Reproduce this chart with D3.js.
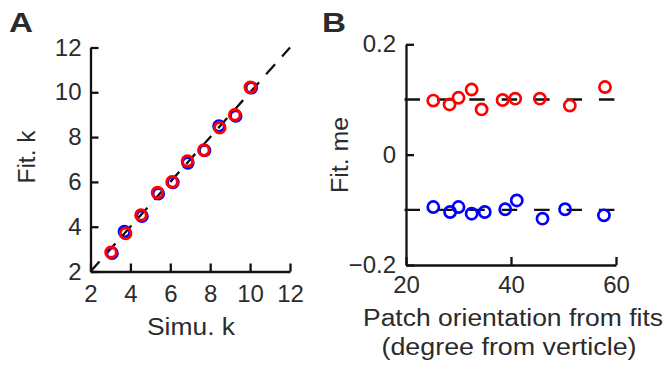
<!DOCTYPE html>
<html><head><meta charset="utf-8">
<script src="https://cdn.jsdelivr.net/npm/d3@7"></script>
<style>
body{margin:0;background:#fff;}
text{font-family:"Liberation Sans",Arial,Helvetica,sans-serif;fill:#2b2b2b;}
</style></head><body>
<svg id="chart" width="667" height="366"></svg>
<script>
// Panel A data
const simuKBlue = [3.08, 3.70, 4.58, 5.40, 6.13, 6.88, 7.72, 8.44, 9.28, 10.06];
const fitKBlue  = [2.82, 3.78, 4.47, 5.47, 5.98, 6.85, 7.40, 8.49, 8.94, 10.20];
const simuKRed  = [3.03, 3.76, 4.53, 5.36, 6.09, 6.86, 7.68, 8.48, 9.23, 10.01];
const fitKRed   = [2.86, 3.70, 4.52, 5.52, 6.00, 6.93, 7.42, 8.42, 8.99, 10.22];
const ticksA = [2, 4, 6, 8, 10, 12];
// Panel B data
const orientRed = [25.2, 28.3, 30.0, 32.5, 34.4, 38.4, 40.8, 45.5, 51.2, 57.9];
const meRed     = [0.098, 0.091, 0.103, 0.118, 0.082, 0.099, 0.1015, 0.1015, 0.089, 0.1225];
const orientBlue = [25.2, 28.4, 30.0, 32.5, 35.0, 38.9, 41.1, 46.0, 50.3, 57.7];
const meBlue     = [-0.095, -0.104, -0.095, -0.107, -0.104, -0.099, -0.083, -0.116, -0.099, -0.110];
const refLevels = [0.1, -0.1];
const ticksBx = [20, 40, 60];
const ticksBy = [-0.2, 0, 0.2];
const tickLabelsBy = ["\u22120.2", "0", "0.2"];

const svg = d3.select("#chart");
const FS = 24;   // tick labels
const TS = 23;   // axis titles

function styleAxis(g){
  g.select(".domain").attr("stroke","#111").attr("stroke-width",2.3);
  g.selectAll(".tick line").attr("stroke","#111").attr("stroke-width",2.3);
  g.selectAll(".tick text").attr("font-size",FS).attr("fill","#2b2b2b")
    .attr("font-family","Liberation Sans, Arial, sans-serif");
}
function title(g, txt, len, attrs){
  const t = g.append("text").attr("text-anchor","middle").attr("font-size",TS)
    .attr("textLength",len).attr("lengthAdjust","spacingAndGlyphs").text(txt);
  for (const k in attrs) t.attr(k, attrs[k]);
  return t;
}

// ---------- Panel A ----------
const xA = d3.scaleLinear().domain([2,12]).range([90.5,290]);
const yA = d3.scaleLinear().domain([2,12]).range([271.5,47.5]);
const gA = svg.append("g");

gA.append("line")
  .attr("x1",xA(2)).attr("y1",yA(2)).attr("x2",xA(12)).attr("y2",yA(12))
  .attr("stroke","#111").attr("stroke-width",2.3).attr("stroke-dasharray","13.5,10.5");

gA.append("g").attr("transform",`translate(0,${yA(2)})`)
  .call(d3.axisBottom(xA).tickValues(ticksA).tickSize(-8).tickSizeOuter(0).tickPadding(13))
  .call(styleAxis);
gA.append("g").attr("transform",`translate(${xA(2)},0)`)
  .call(d3.axisLeft(yA).tickValues(ticksA).tickSize(-8).tickSizeOuter(0).tickPadding(9))
  .call(styleAxis);

gA.selectAll("circle.blue").data(simuKBlue).join("circle").attr("class","blue")
  .attr("cx",(d)=>xA(d)).attr("cy",(d,i)=>yA(fitKBlue[i])).attr("r",5.3)
  .attr("fill","none").attr("stroke","#0000ff").attr("stroke-width",3);
gA.selectAll("circle.red").data(simuKRed).join("circle").attr("class","red")
  .attr("cx",(d)=>xA(d)).attr("cy",(d,i)=>yA(fitKRed[i])).attr("r",5.3)
  .attr("fill","none").attr("stroke","#ff0000").attr("stroke-width",3);

title(gA, "Simu. k", 88, {x:191, y:335});
title(gA, "Fit. k", 53, {transform:"translate(35,157) rotate(-90)"});
gA.append("text").attr("x",9).attr("y",32).attr("font-size",27).attr("font-weight","bold")
  .attr("textLength",24).attr("lengthAdjust","spacingAndGlyphs")
  .attr("fill","#000").text("A");

// ---------- Panel B ----------
const xB = d3.scaleLinear().domain([20,60]).range([406,616]);
const yB = d3.scaleLinear().domain([-0.2,0.2]).range([265,44.3]);
const gB = svg.append("g");

gB.selectAll("line.ref").data(refLevels).join("line").attr("class","ref")
  .attr("x1",xB(20)-1.5).attr("x2",xB(60)).attr("y1",d=>yB(d)).attr("y2",d=>yB(d))
  .attr("stroke","#111").attr("stroke-width",2.3).attr("stroke-dasharray","15.5,16.9");

gB.append("g").attr("transform",`translate(0,${yB(-0.2)})`)
  .call(d3.axisBottom(xB).tickValues(ticksBx).tickSize(-8).tickSizeOuter(0).tickPadding(10.5))
  .call(styleAxis);
gB.append("g").attr("transform",`translate(${xB(20)},0)`)
  .call(d3.axisLeft(yB).tickValues(ticksBy).tickFormat((d,i)=>tickLabelsBy[i]).tickSize(-8).tickSizeOuter(0).tickPadding(10))
  .call(styleAxis);

gB.selectAll("circle.blue").data(orientBlue).join("circle").attr("class","blue")
  .attr("cx",d=>xB(d)).attr("cy",(d,i)=>yB(meBlue[i])).attr("r",5.6)
  .attr("fill","none").attr("stroke","#0000ff").attr("stroke-width",2.7);
gB.selectAll("circle.red").data(orientRed).join("circle").attr("class","red")
  .attr("cx",d=>xB(d)).attr("cy",(d,i)=>yB(meRed[i])).attr("r",5.6)
  .attr("fill","none").attr("stroke","#ff0000").attr("stroke-width",2.7);

title(gB, "Patch orientation from fits", 300, {x:513, y:326});
title(gB, "(degree from verticle)", 255, {x:509, y:355});
title(gB, "Fit. me", 76, {transform:"translate(348,155) rotate(-90)"});
gB.append("text").attr("x",322).attr("y",32).attr("font-size",27).attr("font-weight","bold")
  .attr("textLength",24).attr("lengthAdjust","spacingAndGlyphs")
  .attr("fill","#000").text("B");
</script></body></html>
